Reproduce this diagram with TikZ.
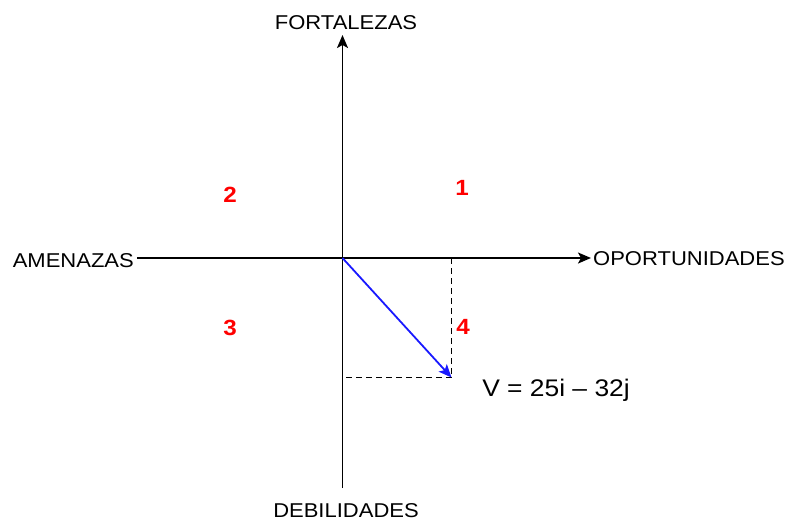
\documentclass[tikz,border=0pt]{standalone}
\usepackage{fontspec}
\setmainfont[FakeStretch=1.1]{Liberation Sans}
\usetikzlibrary{arrows.meta}
\begin{document}
\begin{tikzpicture}[x=1pt,y=-1pt,
  lbl/.style={font=\fontsize{20}{22}\selectfont, inner sep=0pt},
  quad/.style={font=\bfseries\fontsize{22}{24}\selectfont, text=red, inner sep=0pt},
  axis/.style={line width=1.8pt, -{Stealth[length=13pt,width=11pt,inset=3pt]}},
  guide/.style={line width=1.4pt, dashed, dash pattern=on 6pt off 4pt}]
\useasboundingbox (0,0) rectangle (787,522);
% axes
\coordinate (O) at (342.5,258);
\coordinate (top) at (342.5,35);
\coordinate (bot) at (342.5,488);
\coordinate (left) at (137,258);
\coordinate (right) at (591,258);
\draw[axis] (bot) -- (top);
\draw[axis] (left) -- (right);
% labels
\node[lbl] (fort) at (346,23) {FORTALEZAS};
\node[lbl] (deb) at (346,510.5) {DEBILIDADES};
\node[lbl, anchor=east] (ame) at (134,261) {AMENAZAS};
\node[lbl, anchor=west] (opo) at (593,259) {OPORTUNIDADES};
% quadrants
\node[quad] (q1) at (462,188) {1};
\node[quad] (q2) at (230,195) {2};
\node[quad] (q3) at (230,328) {3};
\node[quad] (q4) at (463,327) {4};
% vector
\coordinate (tip) at (451.5,377.5);
\coordinate (xp) at (451.5,258);
\coordinate (yp) at (346,377.5);
\draw[guide] (xp) -- (tip);
\draw[guide] (yp) -- (tip);
\draw[line width=1.8pt, blue!90!white, -{Stealth[length=13pt,width=11pt,inset=3pt]}] (O) -- (tip);
\node[lbl, font=\fontsize{24}{26}\selectfont] (v) at (556,390) {V = 25i – 32j};
\end{tikzpicture}
\end{document}
